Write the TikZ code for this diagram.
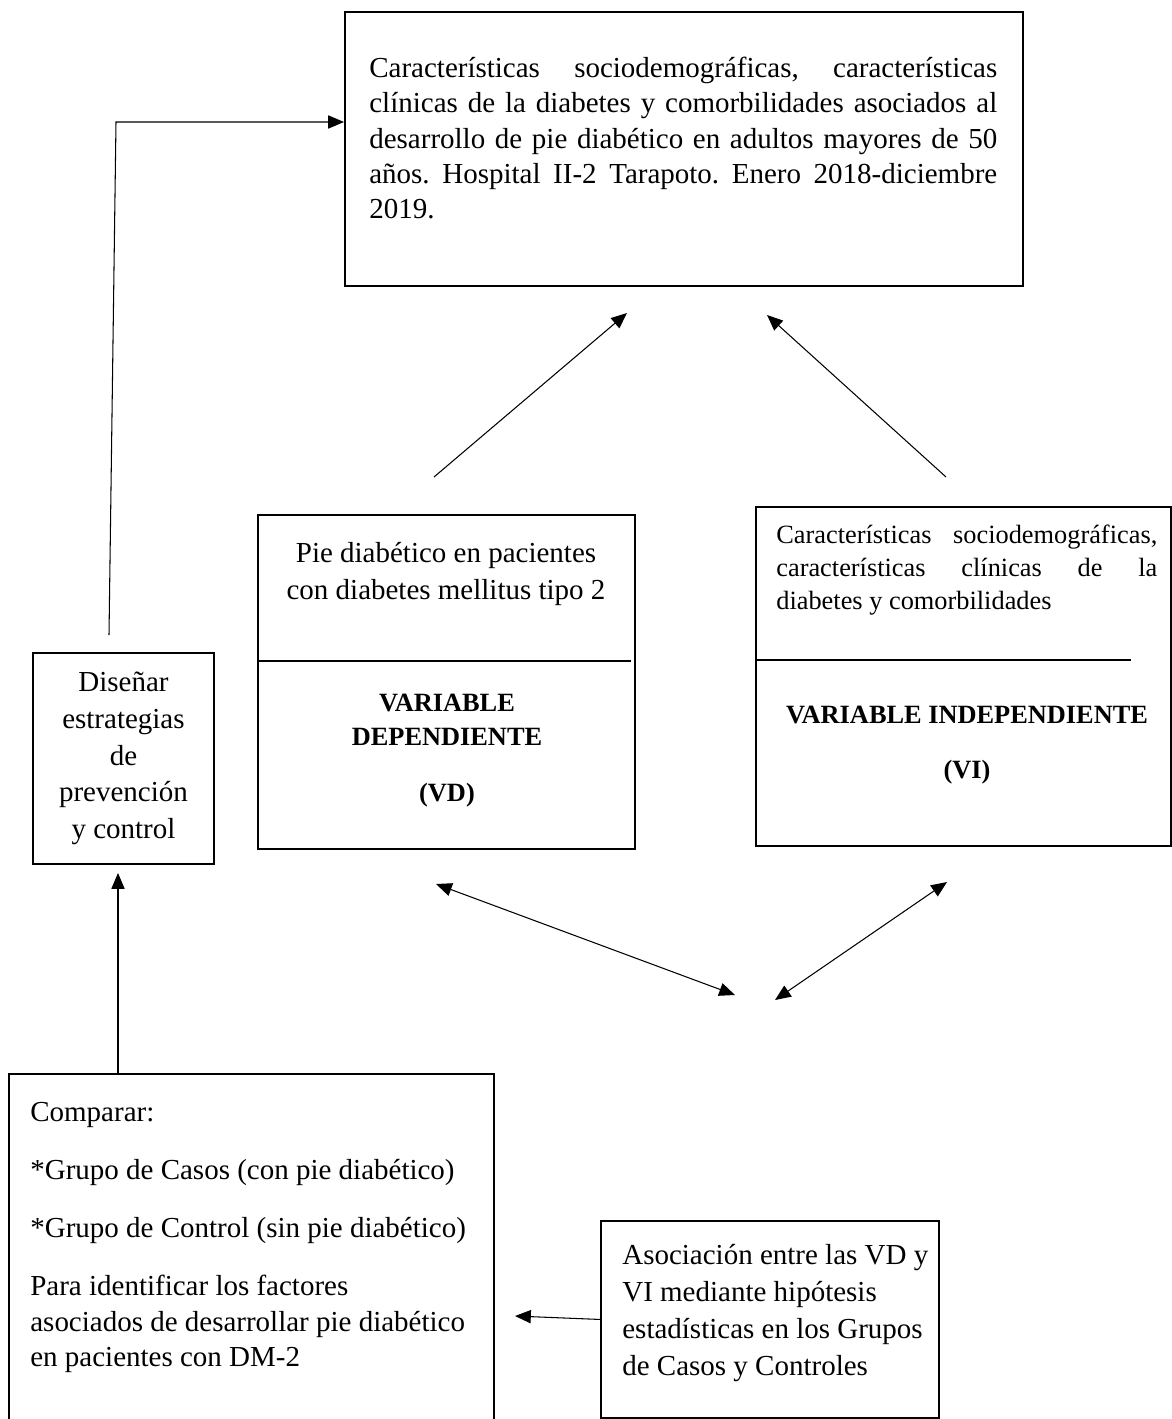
\documentclass[tikz,border=0pt]{standalone}
\usepackage{fontspec}
\setmainfont{Liberation Serif}
\usetikzlibrary{arrows.meta}

\tikzset{
	caja/.style={draw, line width=1.1pt, inner sep=0pt, anchor=north west},
	texto/.style={inner sep=0pt, font=\fontsize{16.5}{20}\selectfont,
		execute at begin node={\frenchspacing\hyphenpenalty=10000\exhyphenpenalty=10000}},
	chico/.style={font=\fontsize{15}{18.8}\selectfont},
	negrita/.style={font=\fontsize{15}{19.3}\selectfont\bfseries},
	flecha/.style={line width=0.6pt, -{Triangle[length=9pt,width=7.5pt]}},
	dflecha/.style={line width=0.6pt, {Triangle[length=9pt,width=7.5pt]}-{Triangle[length=9pt,width=7.5pt]}},
	raya/.style={line width=0.6pt}
}

\begin{document}
\begin{tikzpicture}[x=0.02cm,y=-0.02cm]

	\useasboundingbox (0,0) rectangle (1172,1419);

	% cajas
	\node[caja, minimum width=13.56cm, minimum height=5.48cm] (top) at (344,11) {};
	\node[caja, minimum width=7.54cm, minimum height=6.68cm] (vd) at (257,514) {};
	\node[caja, minimum width=8.3cm, minimum height=6.78cm] (vi) at (755,506) {};
	\node[caja, texto, minimum width=3.62cm, minimum height=4.22cm, align=center,
		font=\fontsize{16.5}{21}\selectfont] (dis) at (32,652) {Diseñar\\estrategias\\de\\prevención\\y control};
	\node[caja, minimum width=9.7cm, minimum height=8cm] (bizq) at (8,1073) {};
	\node[caja, minimum width=6.76cm, minimum height=3.94cm] (bder) at (600,1220) {};

	% textos
	\node[texto, text width=12.56cm, align=justify, anchor=north west] (ttop) at (369,57)
		{Características sociodemográficas, características\linebreak
		clínicas de la diabetes y comorbilidades asociados al\linebreak
		desarrollo de pie diabético en adultos mayores de 50\linebreak
		años. Hospital II-2 Tarapoto. Enero 2018-diciembre\linebreak
		2019.};
	\node[texto, align=center, anchor=north, font=\fontsize{16.5}{21}\selectfont] (tvd1) at (446,542) {Pie diabético en pacientes\\con diabetes mellitus tipo 2};
	\node[texto, negrita, align=center, anchor=north] (tvd2) at (447,694) {VARIABLE\\DEPENDIENTE\\[0.44cm](VD)};
	\node[texto, chico, text width=7.62cm, align=justify, anchor=north west] (tvi1) at (776,525)
		{Características sociodemográficas,\linebreak
		características clínicas de la\linebreak
		diabetes y comorbilidades};
	\node[texto, negrita, align=center, anchor=north] (tvi2) at (967,706) {VARIABLE INDEPENDIENTE\\[0.42cm](VI)};
	\node[texto, align=left, anchor=north west] (tizq) at (30,1102)
		{Comparar:\\[0.46cm]
		*Grupo de Casos (con pie diabético)\\[0.46cm]
		*Grupo de Control (sin pie diabético)\\[0.46cm]
		Para identificar los factores\\
		asociados de desarrollar pie diabético\\
		en pacientes con DM-2};
	\node[texto, align=left, anchor=north west, font=\fontsize{16.5}{21}\selectfont] (tder) at (622,1244)
		{Asociación entre las VD y\\VI mediante hipótesis\\estadísticas en los Grupos\\de Casos y Controles};

	% lineas divisorias
	\coordinate (lin1) at (631,661);
	\coordinate (lin2) at (1131,660);
	\draw[raya] (vd.west |- lin1) -- (lin1);
	\draw[raya] (vi.west |- lin2) -- (lin2);

	% extremos libres
	\coordinate (e1) at (109,635);
	\coordinate (e2) at (116,122);
	\coordinate (a1) at (434,477);
	\coordinate (a2) at (627,313);
	\coordinate (b1) at (946,477);
	\coordinate (b2) at (767,315);
	\coordinate (c1) at (436,884);
	\coordinate (c2) at (735,995);
	\coordinate (d1) at (947,882);
	\coordinate (d2) at (775,1000);
	\coordinate (g1) at (118,873);
	\coordinate (h1) at (515,1316);

	\draw[flecha] (e1) -- (e2) -- (e2 -| top.west);
	\draw[flecha] (a1) -- (a2);
	\draw[flecha] (b1) -- (b2);
	\draw[dflecha] (c1) -- (c2);
	\draw[dflecha] (d1) -- (d2);
	\draw[flecha] (g1 |- bizq.north) -- (g1);
	\draw[flecha] (bder.west) -- (h1);

\end{tikzpicture}
\end{document}
